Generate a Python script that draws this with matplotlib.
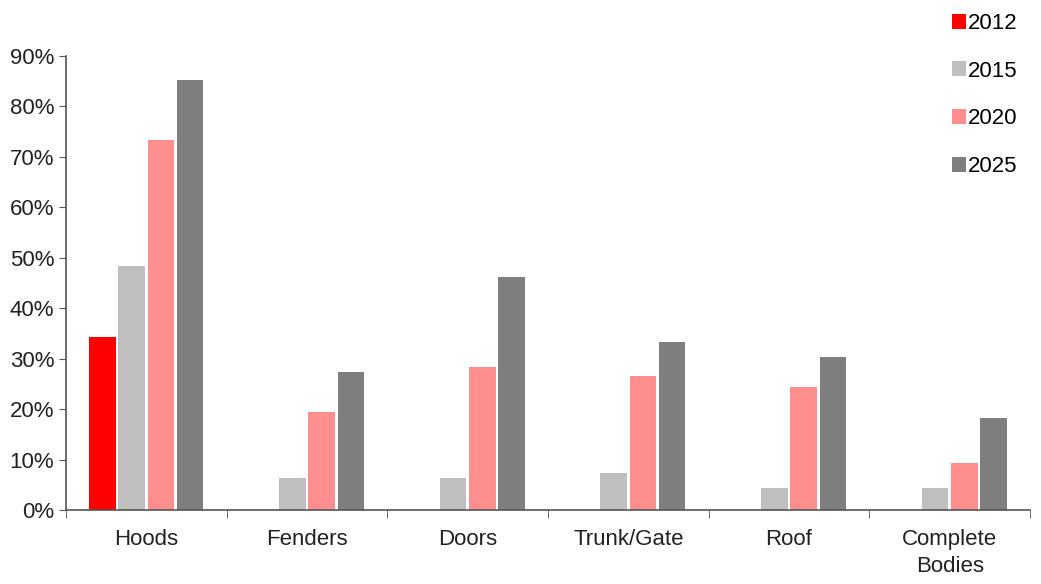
import numpy as np
import matplotlib.pyplot as plt
from matplotlib.ticker import FixedLocator, PercentFormatter

plt.rcParams['font.family'] = ['Liberation Sans', 'DejaVu Sans']

categories = ['Hoods', 'Fenders', 'Doors', 'Trunk/Gate', 'Roof', 'Complete\nBodies']
years = ['2012', '2015', '2020', '2025']
v2012 = [34.3, 0, 0, 0, 0, 0]
v2015 = [48.3, 6.4, 6.4, 7.4, 4.4, 4.4]
v2020 = [73.3, 19.4, 28.4, 26.5, 24.3, 9.4]
v2025 = [85.3, 27.3, 46.2, 33.4, 30.3, 18.3]
colors = ['#ff0000', '#bfbfbf', '#ff8f8f', '#7f7f7f']

series = [v2012, v2015, v2020, v2025]

fig = plt.figure(figsize=(10.41, 5.84), dpi=100)
ax = fig.add_axes([0.0634, 0.1267, 0.926, 0.7774])

x = np.arange(len(categories)) + 0.5
step, width = 0.182, 0.165
for j, (vals, yr, c) in enumerate(zip(series, years, colors)):
    ax.bar(x + (j - 1.5) * step, vals, width, color=c, label=yr, zorder=2)

ax.set_xlim(0, len(categories))
ax.set_ylim(0, 90)
ax.set_yticks(np.arange(0, 91, 10))
ax.yaxis.set_major_formatter(PercentFormatter(decimals=0))
ax.set_xticks(x)
ax.set_xticklabels(categories, fontsize=16, color='#222222', linespacing=1.35)
ax.xaxis.set_minor_locator(FixedLocator(np.arange(0, len(categories) + 1)))
ax.tick_params(axis='x', which='major', length=0, pad=14)
ax.tick_params(axis='x', which='minor', length=6, color='#555555', direction='out')
ax.tick_params(axis='y', length=5, color='#555555', labelsize=16, labelcolor='#222222')

for s in ['top', 'right']:
    ax.spines[s].set_visible(False)
for s in ['left', 'bottom']:
    ax.spines[s].set_color('#555555')
    ax.spines[s].set_linewidth(1.2)

fig.legend(loc='upper right', bbox_to_anchor=(0.997, 1.012), frameon=False,
           fontsize=16, handlelength=0.65, handleheight=0.65, handletextpad=0.1,
           labelspacing=1.2)

fig.savefig('out.png', dpi=100)
